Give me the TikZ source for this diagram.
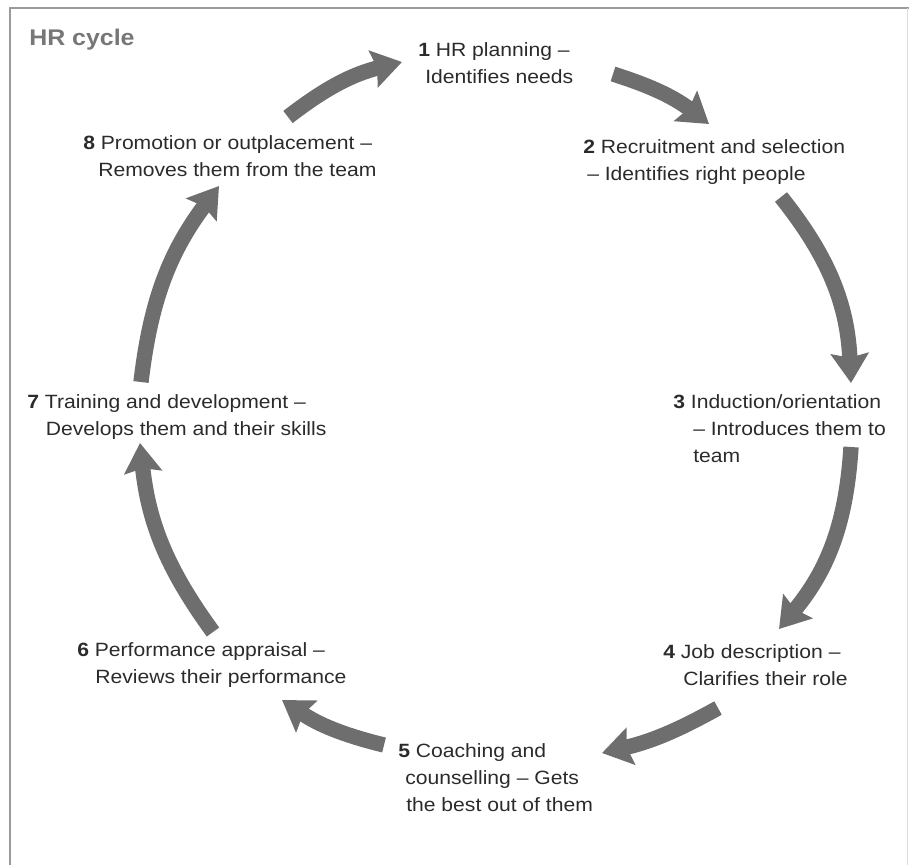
\documentclass[tikz,border=0pt]{standalone}
\usepackage{fontspec}
\setmainfont{Liberation Sans}[FakeStretch=1.1]
\usetikzlibrary{arrows.meta}
\definecolor{arrowgray}{HTML}{6E6E6E}
\definecolor{txt}{HTML}{2B2B2B}
\definecolor{titlegray}{HTML}{777777}
\definecolor{framegray}{HTML}{9A9A9A}
\begin{document}
\begin{tikzpicture}[x=0.75pt,y=-0.75pt,
  lbl/.style={anchor=base west, inner sep=0pt, align=left, text=txt,
    font=\fontsize{14.4}{20.25}\selectfont},
  cyc/.style={draw=arrowgray, line width=11.5pt,
    -{Stealth[length=22pt,width=28pt,inset=3pt]}},
]
\useasboundingbox (0,0) rectangle (909,865);
\draw[framegray, line width=1.5pt] (9.5,865) -- (9.5,7.5) -- (909,7.5);
\draw[framegray!35, line width=0.75pt] (907,7.5) -- (907,865);

\node[anchor=base west, inner sep=0pt, text=titlegray,
  font=\fontsize{17}{20}\selectfont\bfseries] (title) at (29,45) {HR cycle};

% base anchor = baseline of the last line
\node[lbl] (n1) at (418,83) {\textbf{1} HR planning –\\\hspace*{5.3pt}Identifies needs};
\node[lbl] (n2) at (583,180) {\textbf{2} Recruitment and selection\\\hspace*{3pt}– Identifies right people};
\node[lbl] (n3) at (673,462) {\textbf{3} Induction/orientation\\\hspace*{15pt}– Introduces them to\\\hspace*{15pt}team};
\node[lbl] (n4) at (663,685) {\textbf{4} Job description –\\\hspace*{15pt}Clarifies their role};
\node[lbl] (n5) at (398,811) {\textbf{5} Coaching and\\\hspace*{5.3pt}counselling – Gets\\\hspace*{6pt}the best out of them};
\node[lbl] (n6) at (77,683) {\textbf{6} Performance appraisal –\\\hspace*{13.5pt}Reviews their performance};
\node[lbl] (n7) at (27,435) {\textbf{7} Training and development –\\\hspace*{14pt}Develops them and their skills};
\node[lbl] (n8) at (83,176) {\textbf{8} Promotion or outplacement –\\\hspace*{11.25pt}Removes them from the team};

\coordinate (a1s) at (288,117); \coordinate (a1e) at (402,62);
\coordinate (a2s) at (613,74);  \coordinate (a2e) at (709,124);
\coordinate (a3s) at (781,197); \coordinate (a3e) at (851,383);
\coordinate (a4s) at (851,447); \coordinate (a4e) at (779,629);
\coordinate (a5s) at (718,708); \coordinate (a5e) at (602,753);
\coordinate (a6s) at (384,745); \coordinate (a6e) at (282,700);
\coordinate (a7s) at (213,632); \coordinate (a7e) at (140,443);
\coordinate (a8s) at (141,382); \coordinate (a8e) at (219,186);

\draw[cyc] (a1s) to[bend left=12] (a1e);
\draw[cyc] (a2s) to[bend left=10] (a2e);
\draw[cyc] (a3s) to[bend left=18] (a3e);
\draw[cyc] (a4s) to[bend left=18] (a4e);
\draw[cyc] (a5s) to[bend left=8] (a5e);
\draw[cyc] (a6s) to[bend left=10] (a6e);
\draw[cyc] (a7s) to[bend left=15] (a7e);
\draw[cyc] (a8s) to[bend left=15] (a8e);
\end{tikzpicture}
\end{document}
